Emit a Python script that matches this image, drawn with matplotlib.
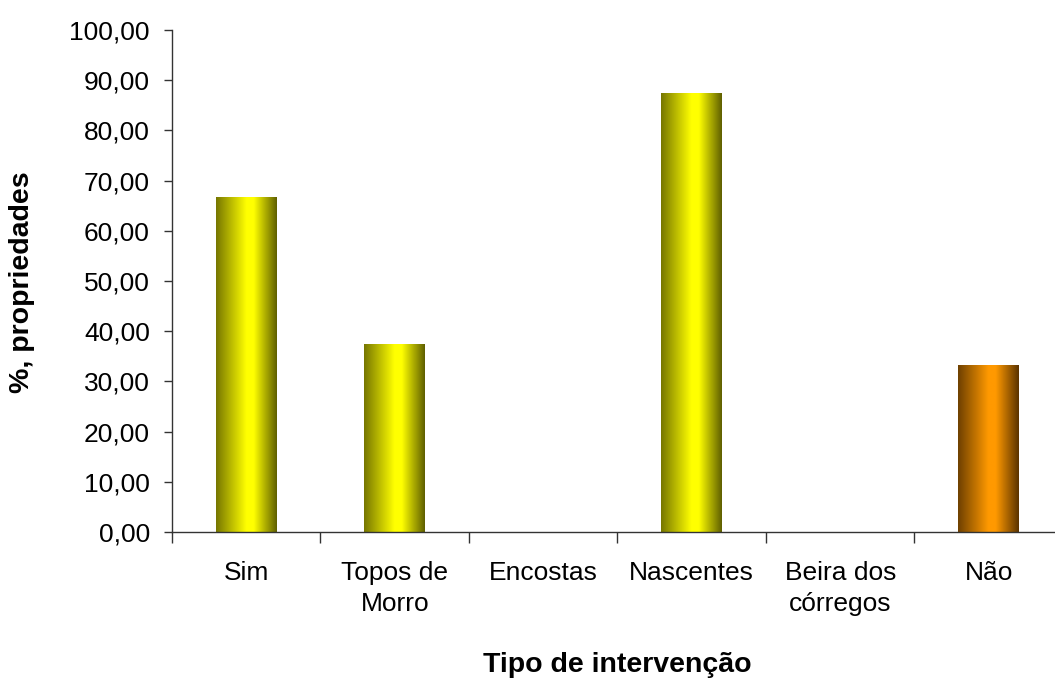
import matplotlib
matplotlib.use("Agg")
import matplotlib.pyplot as plt
import numpy as np
from matplotlib.colors import LinearSegmentedColormap
from matplotlib.ticker import FixedLocator, FuncFormatter

categories = ["Sim", "Topos de\nMorro", "Encostas", "Nascentes", "Beira dos\ncórregos", "Não"]
values = [66.67, 37.5, 0.0, 87.5, 0.0, 33.33]
bar_kind = ["yellow", "yellow", "yellow", "yellow", "yellow", "orange"]

plt.rcParams['font.family'] = ['Liberation Sans', 'DejaVu Sans']

fig = plt.figure(figsize=(10.55, 6.8), dpi=100)
ax = fig.add_axes([172/1055, 1-532/680, (1063-172)/1055, (532-30)/680])

x = np.arange(len(categories))
bars = ax.bar(x, values, width=0.41, color='none', edgecolor='none', zorder=2)

cmaps = {
    "yellow": LinearSegmentedColormap.from_list("y", [(0.0, "#767600"), (0.5, "#ffff00"), (0.62, "#ffff00"), (1.0, "#5f5f00")]),
    "orange": LinearSegmentedColormap.from_list("o", [(0.0, "#6e4000"), (0.5, "#ff9900"), (0.62, "#ff9900"), (1.0, "#5a3300")]),
}
grad = np.linspace(0, 1, 256).reshape(1, -1)
for b, kind in zip(bars, bar_kind):
    h = b.get_height()
    if h <= 0:
        continue
    x0 = b.get_x(); w = b.get_width()
    im = ax.imshow(grad, cmap=cmaps[kind], aspect='auto', extent=(x0, x0 + w, 0, h),
                   interpolation='bilinear', zorder=2)
    im.set_clip_path(b)

ax.set_xlim(-0.5, len(categories) - 0.5)
ax.set_ylim(0, 100)
ax.set_yticks(np.arange(0, 101, 10))
ax.yaxis.set_major_formatter(FuncFormatter(lambda v, p: f"{v:.2f}".replace('.', ',')))
ax.set_xticks(x)
ax.set_xticklabels(categories, linespacing=1.38)
ax.xaxis.set_minor_locator(FixedLocator(np.arange(-0.5, len(categories), 1.0)))
ax.tick_params(axis='x', which='major', length=0, pad=21, labelsize=19)
ax.tick_params(axis='x', which='minor', length=8, width=1, direction='out', color='#333333')
ax.tick_params(axis='y', length=6, width=1, direction='out', labelsize=19, pad=10, color='#333333')

for s in ['top', 'right']:
    ax.spines[s].set_visible(False)
for s in ['left', 'bottom']:
    ax.spines[s].set_color('#333333')
    ax.spines[s].set_linewidth(1)

fig.text(22/1055, 1-282/680, "%, propriedades", rotation=90, ha='center', va='center',
         fontsize=20.5, fontweight='bold')
fig.text(617/1055, 1-665/680, "Tipo de intervenção", ha='center', va='center',
         fontsize=20.5, fontweight='bold')

fig.savefig("out.png", dpi=100)
